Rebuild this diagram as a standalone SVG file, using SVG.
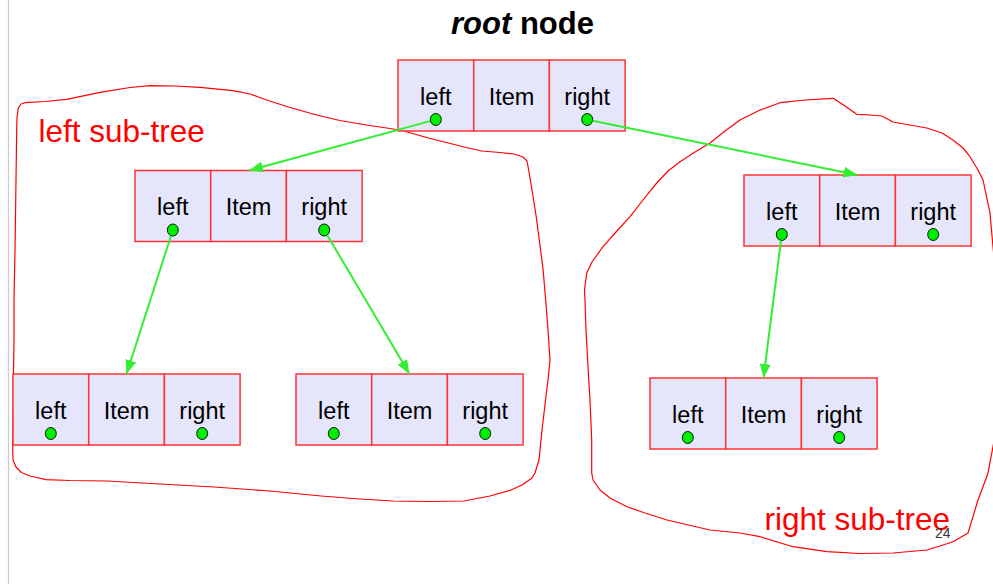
<svg xmlns="http://www.w3.org/2000/svg" width="993" height="584" viewBox="0 0 993 584">
  <style>
    .cell { fill: #e5e5fb; stroke: #ff3333; stroke-width: 1.5; }
    .lbl { font-family: "Liberation Sans", Arial, sans-serif; font-size: 23.5px; fill: #000; text-anchor: middle; }
    .ptr { fill: #00ee00; stroke: #000; stroke-width: 0.9; }
    .edge { stroke: #33ee33; stroke-width: 2; fill: none; marker-end: url(#head); }
    .hand { fill: none; stroke: #ff0000; stroke-width: 1.2; stroke-linejoin: round; }
    .note { font-family: "Liberation Sans", Arial, sans-serif; font-size: 31.5px; fill: #ff0000; }
  </style>
  <defs>
    <marker id="head" markerUnits="userSpaceOnUse" markerWidth="15" markerHeight="12" refX="14" refY="5.5" orient="auto">
      <path d="M0,0 L14,5.5 L0,11 Z" fill="#33ee33"/>
    </marker>
    <!-- three-cell tree node: left | Item | right -->
    <g id="tnode">
      <rect class="cell" x="0" y="0" width="75.7" height="71"/>
      <rect class="cell" x="75.7" y="0" width="75.7" height="71"/>
      <rect class="cell" x="151.4" y="0" width="75.7" height="71"/>
      <text class="lbl" x="37.8" y="44.5">left</text>
      <text class="lbl" x="113.5" y="44.5">Item</text>
      <text class="lbl" x="189.2" y="44.5">right</text>
      <ellipse class="ptr" cx="37.8" cy="59.5" rx="5.5" ry="6"/>
      <ellipse class="ptr" cx="189.2" cy="59.5" rx="5.5" ry="6"/>
    </g>
  </defs>

  <rect x="0" y="0" width="993" height="584" fill="#fff"/>
  <line x1="8.5" y1="0" x2="8.5" y2="584" stroke="#cccccc" stroke-width="1.2"/>

  <text x="522.5" y="34" text-anchor="middle" font-family="'Liberation Sans', Arial, sans-serif" font-size="31" font-weight="bold" fill="#000"><tspan font-style="italic">root</tspan> node</text>

  <!-- hand-drawn outlines around the two sub-trees -->
  <g id="outlines">
    <path class="hand" d="M14,300 L15,250 L16,180 L16.7,130 L17,118 L18.3,108 L21,104 L25,102.7 L45,101.5 L66.7,99.3 L100,92.3 L130,87.5 L150,85.7 L175,86 L200,87.3 L233,90.7 L250,94 L266.7,100 L290,107.5 L316.7,115 L340,120.5 L366.7,125 L400,130 L428.6,138 L464,147 L482,151 L500,152.5 L514,154 L523,157 L527,161 L529,172 L532,190 L536,215 L543,268.6 L546,304 L548,330 L550,360 L548,380 L546,396 L542,430 L539,460 L535,473 L532,478 L522,485 L511,490 L490,496 L464,501 L430,501.5 L393,501 L360,499 L321,496 L270,491 L214,487 L160,484 L107,481 L70,480.5 L46,479.6 L30,476 L21.4,472.5 L16,467 L13,460 L12.7,450 L13.3,400 L13.3,383 L14,340 Z"/>
    <path class="hand" d="M833.3,98.3 L845,106 L856.7,114.3 L870,115 L881.7,116 L893,122 L910,125 L926.7,128 L942,133 L953,140 L963,148 L970,156.7 L978,170 L983,180 L990,213 L993,246.7 L998,300 L1000,380 L996,430 L993,446.7 L988,473 L983,486.7 L978,500 L973,516.7 L968,533 L953,541.7 L940,546 L927,550 L893,553 L860,553.5 L827,551.7 L793,546.7 L760,536.7 L740,533 L710,530 L667,520 L645,513 L627,506.7 L610,498 L600,490 L593,480 L591.7,473 L591.7,440 L590,400 L588,366.7 L586,330 L585,300 L584.5,290 L586.7,273 L592,262 L603,246.7 L616,232 L630,216.7 L643,200 L656.7,183 L668,171 L680,161.7 L695,152 L710,143 L725,131 L740,120 L760,110 L780,102.7 L805,100 Z"/>
  </g>

  <g id="root"><use href="#tnode" transform="translate(398,60)"/></g>
  <g id="left-child"><use href="#tnode" transform="translate(135,170.5)"/></g>
  <g id="right-child"><use href="#tnode" transform="translate(744,175)"/></g>
  <g id="left-left"><use href="#tnode" transform="translate(13,374)"/></g>
  <g id="left-right"><use href="#tnode" transform="translate(296,374)"/></g>
  <g id="right-left"><use href="#tnode" transform="translate(650,378)"/></g>

  <!-- pointers start at the rim of each green dot -->
  <g id="connectors">
    <line class="edge" x1="430" y1="121.1" x2="249" y2="170.5"/>
    <line class="edge" x1="592.6" y1="120.7" x2="857.5" y2="175"/>
    <line class="edge" x1="171" y1="235.7" x2="126.5" y2="374"/>
    <line class="edge" x1="327.3" y1="235.2" x2="409.5" y2="374"/>
    <line class="edge" x1="781" y1="240.5" x2="763.5" y2="378"/>
  </g>

  <text class="note" x="38.5" y="141.5">left sub-tree</text>
  <text class="note" x="764.5" y="530">right sub-tree</text>
  <text x="935" y="537.5" font-family="'Liberation Sans', Arial, sans-serif" font-size="14" fill="#333">24</text>
</svg>
